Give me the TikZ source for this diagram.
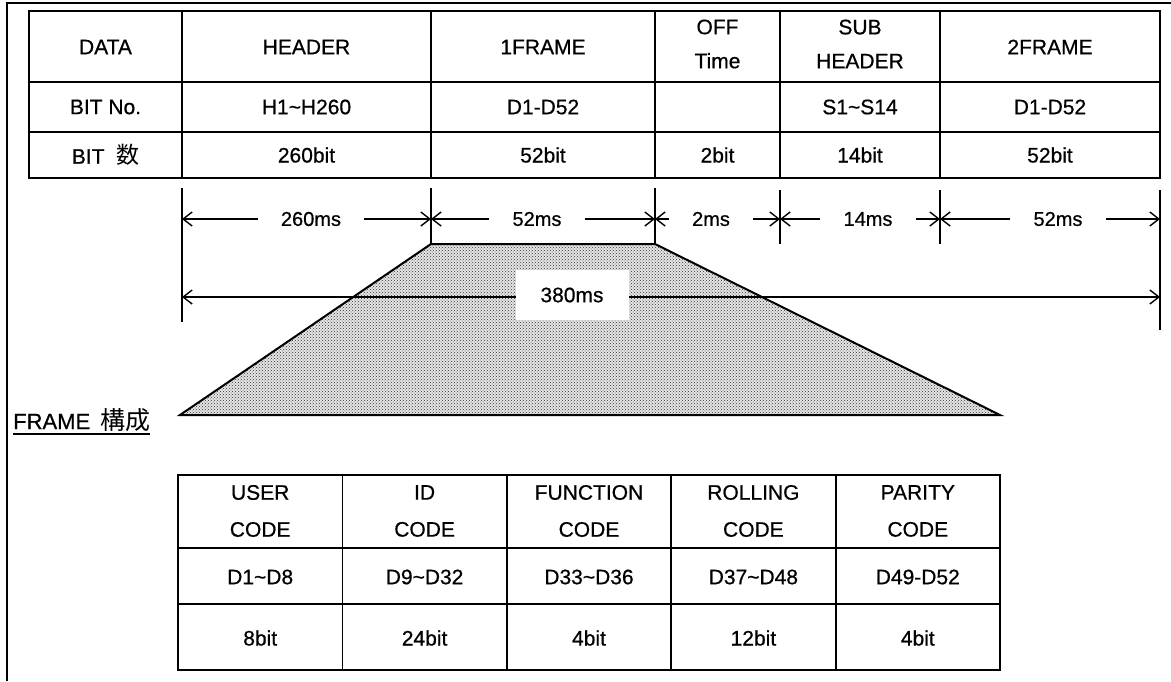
\documentclass[tikz,border=0pt]{standalone}
\usepackage{fontspec}
\setmainfont{Liberation Sans}[FakeBold=0.6]
\newfontfamily\cjk{Noto Sans CJK JP}
\usetikzlibrary{arrows.meta,patterns}
\begin{document}
\begin{tikzpicture}[x=1pt,y=-1pt,
  cell/.style={font=\fontsize{21}{25}\selectfont, align=center, inner sep=0pt},
  hcell/.style={font=\fontsize{21}{34}\selectfont, align=center, inner sep=0pt},
  bcell/.style={font=\fontsize{21}{37}\selectfont, align=center, inner sep=0pt},
  tline/.style={line width=1.8pt},
  dim/.style={line width=1.4pt},
  barb/.tip={Straight Barb[length=9pt,width=14pt,line width=1.4pt]},
  dimarrow/.style={dim, -barb},
  dimlabel/.style={font=\fontsize{20}{22}\selectfont, inner xsep=23pt, inner ysep=0pt},
]
\useasboundingbox (0,0) rectangle (1171,681);

% outer frame
\coordinate (fb) at (7,681);
\coordinate (ftl) at (7,3);
\coordinate (ftr) at (1171,3);
\draw[line width=1.5pt] (fb) -- (ftl) -- (ftr);

% ---------- top table ----------
\draw[tline] (29,11) rectangle (1160,178);
\foreach \y in {82,132} \draw[tline] (29,\y) -- (1160,\y);
\foreach \x in {182,431,655,780,940} \draw[tline] (\x,11) -- (\x,178);

\node[cell] (t11) at (105.5,47) {DATA};
\node[cell] (t12) at (306.5,47) {HEADER};
\node[cell] (t13) at (543,47) {1FRAME};
\node[hcell] (t14) at (717.5,44) {OFF\\Time};
\node[hcell] (t15) at (860,44) {SUB\\HEADER};
\node[cell] (t16) at (1050,47) {2FRAME};

\node[cell] (t21) at (105.5,107) {BIT No.};
\node[cell] (t22) at (306.5,107) {H1\textasciitilde H260};
\node[cell] (t23) at (543,107) {D1-D52};
\node[cell] (t25) at (860,107) {S1\textasciitilde S14};
\node[cell] (t26) at (1050,107) {D1-D52};

\node[cell] (t31) at (105.5,155) {BIT\ \ {\cjk\fontsize{23}{25}\selectfont 数}};
\node[cell] (t32) at (306.5,155) {260bit};
\node[cell] (t33) at (543,155) {52bit};
\node[cell] (t34) at (717.5,155) {2bit};
\node[cell] (t35) at (860,155) {14bit};
\node[cell] (t36) at (1050,155) {52bit};

% ---------- trapezoid ----------
\coordinate (zbl) at (180,415);
\coordinate (ztl) at (431,244);
\coordinate (ztr) at (655,244);
\coordinate (zbr) at (1000,415);
\fill[black!10] (zbl) -- (ztl) -- (ztr) -- (zbr) -- cycle;
\fill[pattern=crosshatch dots, pattern color=black!80] (zbl) -- (ztl) -- (ztr) -- (zbr) -- cycle;
\draw[line width=2pt] (zbl) -- (ztl) -- (ztr) -- (zbr) -- cycle;

% ---------- dimension verticals ----------
\coordinate (v0t) at (182,188); \coordinate (v0b) at (182,322);
\coordinate (v1t) at (431,188);
\coordinate (v2t) at (655,188);
\coordinate (v3t) at (780,190); \coordinate (v3b) at (780,244);
\coordinate (v4t) at (940,190); \coordinate (v4b) at (940,244);
\coordinate (v5t) at (1160,190); \coordinate (v5b) at (1160,330);
\draw[dim] (v0t) -- (v0b);
\draw[dim] (v1t) -- (ztl);
\draw[dim] (v2t) -- (ztr);
\draw[dim] (v3t) -- (v3b);
\draw[dim] (v4t) -- (v4b);
\draw[dim] (v5t) -- (v5b);

% arrow row
\coordinate (a0) at (182,219);
\coordinate (a1) at (431,219);
\coordinate (a2) at (655,219);
\coordinate (a3) at (780,219);
\coordinate (a4) at (940,219);
\coordinate (a5) at (1160,219);

\node[dimlabel] (l1) at (311,219) {260ms};
\node[dimlabel] (l2) at (537,219) {52ms};
\node[dimlabel] (l3) at (711,219) {2ms};
\node[dimlabel] (l4) at (868,219) {14ms};
\node[dimlabel] (l5) at (1058,219) {52ms};
\draw[dimarrow] (l1.west) -- (a0); \draw[dimarrow] (l1.east) -- (a1);
\draw[dimarrow] (l2.west) -- (a1); \draw[dimarrow] (l2.east) -- (a2);
\draw[dimarrow] (l3.west) -- (a2); \draw[dimarrow] (l3.east) -- (a3);
\draw[dimarrow] (l4.west) -- (a3); \draw[dimarrow] (l4.east) -- (a4);
\draw[dimarrow] (l5.west) -- (a4); \draw[dimarrow] (l5.east) -- (a5);

% 380ms
\coordinate (m0) at (182,297);
\coordinate (m5) at (1160,297);
\draw[dim, barb-barb] (m0) -- (m5);
\node[fill=white, minimum width=113pt, minimum height=50pt, inner sep=0pt,
      font=\fontsize{21}{24}\selectfont] (l380) at (572,295) {380ms};

% FRAME label
\node[anchor=base west, inner sep=0pt, font=\fontsize{22}{24}\selectfont]
  (fr) at (13,429) {FRAME\hspace{10pt}{\cjk\fontsize{25}{26}\selectfont 構成}};
\draw[line width=1.4pt] ([yshift=-5pt]fr.base west) -- ([yshift=-5pt]fr.base east);

% ---------- bottom table ----------
\draw[tline] (178,475) rectangle (1000,670);
\foreach \y in {548,604} \draw[tline] (178,\y) -- (1000,\y);
\foreach \x in {342.4,506.8,671.2,835.6} \draw[tline] (\x,475) -- (\x,670);

\node[bcell] (b11) at (260.2,511) {USER\\CODE};
\node[bcell] (b12) at (424.6,511) {ID\\CODE};
\node[bcell] (b13) at (589,511) {FUNCTION\\CODE};
\node[bcell] (b14) at (753.4,511) {ROLLING\\CODE};
\node[bcell] (b15) at (917.8,511) {PARITY\\CODE};

\node[bcell] (b21) at (260.2,577) {D1\textasciitilde D8};
\node[bcell] (b22) at (424.6,577) {D9\textasciitilde D32};
\node[bcell] (b23) at (589,577) {D33\textasciitilde D36};
\node[bcell] (b24) at (753.4,577) {D37\textasciitilde D48};
\node[bcell] (b25) at (917.8,577) {D49-D52};

\node[bcell] (b31) at (260.2,638) {8bit};
\node[bcell] (b32) at (424.6,638) {24bit};
\node[bcell] (b33) at (589,638) {4bit};
\node[bcell] (b34) at (753.4,638) {12bit};
\node[bcell] (b35) at (917.8,638) {4bit};
\end{tikzpicture}
\end{document}
